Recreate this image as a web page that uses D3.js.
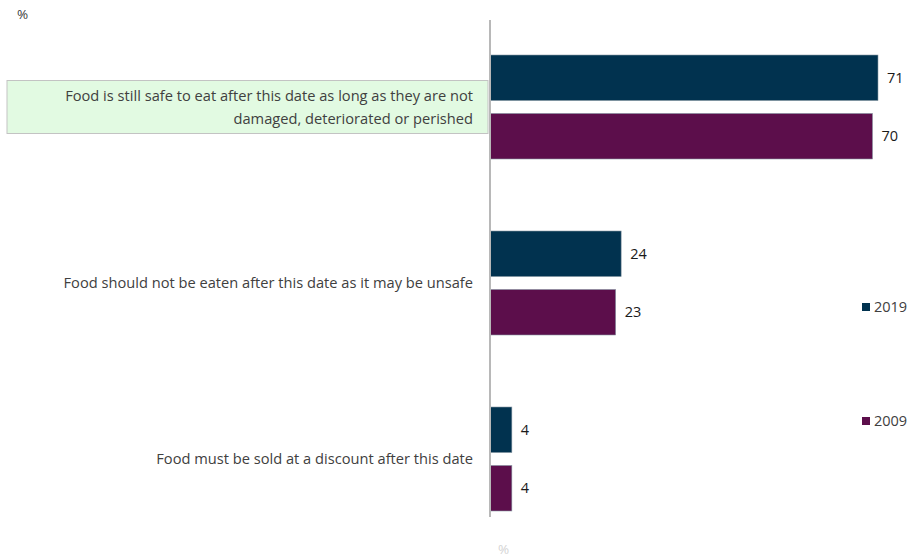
<!DOCTYPE html>
<html>
<head>
<meta charset="utf-8">
<script src="https://cdn.jsdelivr.net/npm/d3@7"></script>
<style>
body{margin:0;background:#fff;}
svg{font-family:"Open Sans","Noto Sans",sans-serif;}
</style>
</head>
<body>
<svg id="chart"></svg>
<script>
var w=909;
var h=559;
var categories=["safe","unsafe","discount"];
var catLabels=[
  ["Food is still safe to eat after this date as long as they are not","damaged, deteriorated or perished"],
  ["Food should not be eaten after this date as it may be unsafe"],
  ["Food must be sold at a discount after this date"]
];
var years=["2019","2009"];
var values2019=[71,24,4];
var values2009=[70,23,4];
var colors=["#01324F","#5C0E4B"];

var x0=490;
var xScale=d3.scaleLinear().domain([0,71]).range([x0,878]);
var yScale=d3.scaleBand().domain(categories).range([19,547]);
var ySub=d3.scaleBand().domain(years).range([36,140]).paddingInner(0.22);
var cScale=d3.scaleOrdinal().domain(years).range(colors);

var svg=d3.select("#chart").attr("width",w).attr("height",h);

// highlight box behind first label
svg.append("rect")
   .attr("x",7).attr("y",80.5)
   .attr("width",481).attr("height",53)
   .attr("fill","#E2FAE2")
   .attr("stroke","#c3c3c3")
   .attr("stroke-width",1);

var data=categories.map(function(c,i){
  return {cat:c,vals:[{year:"2019",v:values2019[i]},{year:"2009",v:values2009[i]}]};
});

var groups=svg.selectAll("g.grp")
   .data(data)
   .enter()
   .append("g")
   .classed("grp",true)
   .attr("transform",function(d){return "translate(0,"+yScale(d.cat)+")";});

groups.selectAll("rect")
   .data(function(d){return d.vals;})
   .enter()
   .append("rect")
   .attr("x",x0)
   .attr("y",function(d){return ySub(d.year);})
   .attr("width",function(d){return xScale(d.v)-x0;})
   .attr("height",ySub.bandwidth())
   .attr("fill",function(d){return cScale(d.year);})
   .attr("stroke","#8a9aa6")
   .attr("stroke-width",0.6);

groups.selectAll("text.val")
   .data(function(d){return d.vals;})
   .enter()
   .append("text")
   .classed("val",true)
   .attr("x",function(d){return xScale(d.v)+9;})
   .attr("y",function(d){return ySub(d.year)+ySub.bandwidth()/2;})
   .attr("dy","0.35em")
   .attr("font-size",14.5)
   .attr("fill","#1a1a1a")
   .text(function(d){return d.v;});

// category labels
var lineH=23;
groups.append("text")
   .attr("text-anchor","end")
   .attr("font-size",14.65)
   .attr("fill","#404040")
   .each(function(d,i){
     var lines=catLabels[i];
     var t=d3.select(this);
     var start=yScale.bandwidth()/2-(lines.length-1)*lineH/2;
     lines.forEach(function(l,j){
       t.append("tspan")
        .attr("x",473)
        .attr("y",start+j*lineH)
        .attr("dy","0.35em")
        .text(l);
     });
   });

// vertical axis line
svg.append("line")
   .attr("x1",x0).attr("x2",x0)
   .attr("y1",20).attr("y2",517)
   .attr("stroke","#b8b8b8")
   .attr("stroke-width",2);

// unit labels
svg.append("text")
   .attr("x",17).attr("y",19)
   .attr("font-size",13.5)
   .attr("fill","#404040")
   .text("%");
svg.append("text")
   .attr("x",498).attr("y",554)
   .attr("font-size",13.5)
   .attr("fill","#d4d4d4")
   .text("%");

// legend
var legendY=[307,421];
var legend=svg.selectAll("g.leg")
   .data(years)
   .enter()
   .append("g")
   .classed("leg",true)
   .attr("transform",function(d,i){return "translate(862,"+legendY[i]+")";});
legend.append("rect")
   .attr("x",0).attr("y",-4)
   .attr("width",8).attr("height",8)
   .attr("fill",function(d){return cScale(d);});
legend.append("text")
   .attr("x",12).attr("y",0)
   .attr("dy","0.35em")
   .attr("font-size",14.5)
   .attr("fill","#404040")
   .text(function(d){return d;});
</script>
</body>
</html>
